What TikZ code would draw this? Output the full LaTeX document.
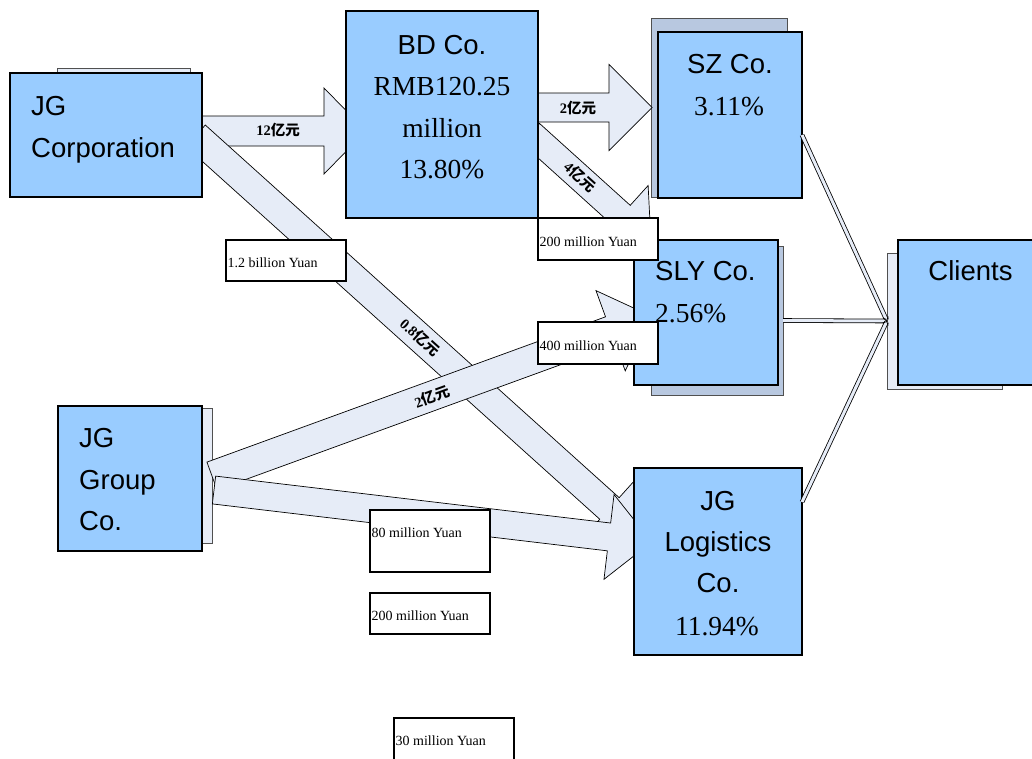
\documentclass[tikz,border=0pt]{standalone}
\usepackage{fontspec}
\setmainfont{Liberation Serif}
\setsansfont{Liberation Sans}
\newfontfamily\cjk{Noto Sans CJK SC}
\usetikzlibrary{calc,arrows.meta}

\definecolor{boxblue}{RGB}{153,204,255}
\definecolor{arrowfill}{RGB}{230,236,247}
\definecolor{backdark}{RGB}{184,200,224}
\definecolor{backedge}{RGB}{80,80,80}

% block arrow: #1 start, #2 tip, #3 shaft half width, #4 head half width, #5 head length
\newcommand{\blockarrow}[5]{%
  \path ($(#2)!#5!(#1)$) coordinate (hb);
  \draw[arrowbody] ($(#1)!#3!90:(#2)$) -- ($(hb)!#3!-90:(#1)$) -- ($(hb)!#4!-90:(#1)$)
    -- (#2) -- ($(hb)!#4!90:(#1)$) -- ($(hb)!#3!90:(#1)$) -- ($(#1)!#3!-90:(#2)$) -- cycle;
}

\tikzset{
  mainbox/.style={draw=black, line width=1.5pt, fill=boxblue, inner sep=0pt, outer sep=0pt, anchor=north west},
  backbox/.style={draw=backedge, line width=0.8pt, fill=backdark, inner sep=0pt, outer sep=0pt, anchor=north west},
  backlight/.style={draw=backedge, line width=0.8pt, fill=arrowfill, inner sep=0pt, outer sep=0pt, anchor=north west},
  lblbox/.style={draw=black, line width=1.3pt, fill=white, inner sep=0pt, outer sep=0pt, anchor=north west},
  arrowbody/.style={draw=black, line width=0.7pt, fill=arrowfill, line join=miter},
  sanstxt/.style={font=\sffamily\fontsize{27.5}{33}\selectfont, inner sep=0pt},
  seriftxt/.style={font=\rmfamily\fontsize{27.5}{33}\selectfont, inner sep=0pt},
  lbltxt/.style={font=\rmfamily\fontsize{14}{17}\selectfont, inner sep=0pt, anchor=base west},
  amount/.style={font=\bfseries\fontsize{14.5}{17}\selectfont, inner sep=0pt},
  dbl/.style={draw=black, line width=0.8pt, double=arrowfill, double distance=3pt,
    -{Straight Barb[length=3pt, width=6pt]}},
}

\newcommand{\yi}{{\cjk\bfseries 亿元}}

\begin{document}
\begin{tikzpicture}[x=1pt, y=-1pt]
\useasboundingbox (0,0) rectangle (1032,758);

% shadow panels behind the company boxes
\node[backlight, minimum width=133, minimum height=120] (jgcb) at (57,68) {};
\node[backbox, minimum width=136, minimum height=179] (szb) at (651,18) {};
\node[backbox, minimum width=132, minimum height=149] (slyb) at (651,246) {};
\node[backlight, minimum width=115, minimum height=136] (clb) at (887,253) {};
\node[backlight, minimum width=142, minimum height=135] (grpb) at (70,408) {};

% end points of the fund flows
\coordinate (aS) at (196,131);     \coordinate (aT) at (366,131);
\coordinate (bS) at (530,107.5);   \coordinate (bT) at (652,107.5);
\coordinate (cS) at (530.6,133.3); \coordinate (cT) at (651,242);
\coordinate (dS) at (195.6,135.8); \coordinate (dT) at (641.4,537.2);
\coordinate (eS) at (212,476);     \coordinate (eT) at (651,316);
\coordinate (fS) at (214,490);     \coordinate (fT) at (651.7,542);

% fund flows
\blockarrow{aS}{aT}{15pt}{43pt}{42pt}
\blockarrow{dS}{dT}{14.5pt}{43pt}{43pt}
\blockarrow{bS}{bT}{14.5pt}{43pt}{43pt}
\blockarrow{cS}{cT}{13.3pt}{40pt}{40pt}
\blockarrow{eS}{eT}{14.8pt}{42.7pt}{43pt}
\blockarrow{fS}{fT}{14pt}{42.7pt}{43pt}

% amounts on the flows
\node[amount] (am1) at (278,130) {12\yi};
\node[amount] (am2) at (578,108) {2\yi};
\node[amount, rotate=-42] (am3) at (580,177) {4\yi};
\node[amount, rotate=-42] (am4) at (420,337) {0.8\yi};
\node[amount, rotate=20] (am5) at (432,397) {2\yi};
\node[amount, rotate=-7] (am6) at (432,519) {0.4\yi};

% company boxes
\node[mainbox, minimum width=192, minimum height=124] (jgc) at (10,73) {};
\node[mainbox, minimum width=192, minimum height=207] (bd) at (346,11) {};
\node[mainbox, minimum width=144, minimum height=166] (sz) at (658,32) {};
\node[mainbox, minimum width=144, minimum height=145] (sly) at (634,240) {};
\node[mainbox, minimum width=150, minimum height=145] (cli) at (898,240) {};
\node[mainbox, minimum width=144, minimum height=145] (grp) at (58,406) {};
\node[mainbox, minimum width=168, minimum height=187] (logi) at (634,468) {};

% flows into the clients
\draw[dbl] ($(sz.north east)+(0,103)$) -- (clb.west);
\draw[dbl] (slyb.east) -- (clb.west);
\draw[dbl] ($(logi.north east)+(0,34)$) -- (clb.west);

% box texts
\node[sanstxt, anchor=base west] (t1a) at (31,115) {JG};
\node[sanstxt, anchor=base west] (t1b) at (31,157) {Corporation};

\node[sanstxt, anchor=base] (t2a) at (442,54) {BD Co.};
\node[seriftxt, anchor=base] (t2b) at (442,95.5) {RMB120.25};
\node[seriftxt, anchor=base] (t2c) at (442,137) {million};
\node[seriftxt, anchor=base] (t2d) at (442,178.5) {13.80\%};

\node[sanstxt, anchor=base] (t3a) at (730,73) {SZ Co.};
\node[seriftxt, anchor=base] (t3b) at (729,115) {3.11\%};

\node[sanstxt, anchor=base west] (t4a) at (655,280) {SLY Co.};
\node[seriftxt, anchor=base west] (t4b) at (655,322.5) {2.56\%};

\node[sanstxt, anchor=base] (t5a) at (970.5,280.5) {Clients};

\node[sanstxt, anchor=base west] (t6a) at (79,447.5) {JG};
\node[sanstxt, anchor=base west] (t6b) at (79,489) {Group};
\node[sanstxt, anchor=base west] (t6c) at (79,530.5) {Co.};

\node[sanstxt, anchor=base] (t7a) at (718,510) {JG};
\node[sanstxt, anchor=base] (t7b) at (718,551.5) {Logistics};
\node[sanstxt, anchor=base] (t7c) at (718,592.5) {Co.};
\node[seriftxt, anchor=base] (t7d) at (717,635) {11.94\%};

% English amount captions
\node[lblbox, minimum width=120, minimum height=41] (l1) at (226,240) {};
\node[lbltxt] (l1t) at (227.5,267) {1.2 billion Yuan};
\node[lblbox, minimum width=120, minimum height=42] (l2) at (538,218) {};
\node[lbltxt] (l2t) at (539.5,246) {200 million Yuan};
\node[lblbox, minimum width=120, minimum height=42] (l3) at (538,322) {};
\node[lbltxt] (l3t) at (539.5,350) {400 million Yuan};
\node[lblbox, minimum width=120, minimum height=62] (l4) at (370,510) {};
\node[lbltxt] (l4t) at (371.5,537) {80 million Yuan};
\node[lblbox, minimum width=120, minimum height=41] (l5) at (370,593) {};
\node[lbltxt] (l5t) at (371.5,620.5) {200 million Yuan};
\node[lblbox, minimum width=120, minimum height=42] (l6) at (394,718) {};
\node[lbltxt] (l6t) at (395.5,745) {30 million Yuan};
\end{tikzpicture}
\end{document}
